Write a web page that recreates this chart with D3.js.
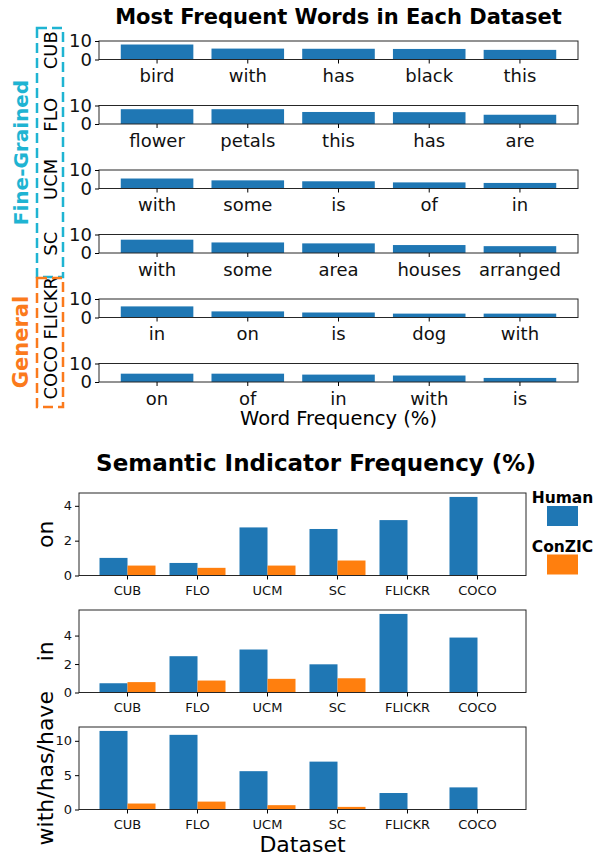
<!DOCTYPE html>
<html>
<head>
<meta charset="utf-8">
<script src="https://cdn.jsdelivr.net/npm/d3@7"></script>
<style>
  body { margin: 0; background: #fff; }
  text { font-family: "DejaVu Sans", sans-serif; }
</style>
</head>
<body>
<script>
// Top panel: most frequent words per dataset (% of words)
const topDatasets = ["CUB", "FLO", "UCM", "SC", "FLICKR", "COCO"];
const cubWords = ["bird", "with", "has", "black", "this"];
const cubFreq = [8.1, 5.9, 5.8, 5.7, 5.2];
const floWords = ["flower", "petals", "this", "has", "are"];
const floFreq = [8.0, 8.0, 6.5, 6.4, 5.0];
const ucmWords = ["with", "some", "is", "of", "in"];
const ucmFreq = [5.4, 4.4, 3.9, 3.3, 3.0];
const scWords = ["with", "some", "area", "houses", "arranged"];
const scFreq = [7.2, 5.7, 5.2, 4.3, 3.7];
const flickrWords = ["in", "on", "is", "dog", "with"];
const flickrFreq = [6.0, 3.3, 2.7, 2.1, 2.1];
const cocoWords = ["on", "of", "in", "with", "is"];
const cocoFreq = [4.5, 4.5, 4.0, 3.5, 2.2];
const topTicks = [0, 10];

// Bottom panel: semantic indicator frequency (%)
const datasets = ["CUB", "FLO", "UCM", "SC", "FLICKR", "COCO"];
const series = ["Human", "ConZIC"];
const humanOn = [1.01, 0.72, 2.76, 2.67, 3.18, 4.51];
const conzicOn = [0.57, 0.44, 0.57, 0.86, 0, 0];
const humanIn = [0.65, 2.55, 3.02, 1.98, 5.52, 3.86];
const conzicIn = [0.73, 0.84, 0.96, 1.0, 0, 0];
const humanWith = [11.44, 10.87, 5.58, 6.97, 2.4, 3.22];
const conzicWith = [0.87, 1.15, 0.63, 0.38, 0, 0];
const onTicks = [0, 2, 4];
const inTicks = [0, 2, 4];
const withTicks = [0, 5, 10];

const blue = "#1f77b4", orange = "#ff7f0e";
const cyanGroup = "#1fb4d2", orangeGroup = "#fb7a1c";

const svg = d3.select("body").append("svg")
    .attr("width", 601)
    .attr("height", 856);

// ---------- top section ----------
const topRows = [
  { name: "CUB", words: cubWords, values: cubFreq },
  { name: "FLO", words: floWords, values: floFreq },
  { name: "UCM", words: ucmWords, values: ucmFreq },
  { name: "SC", words: scWords, values: scFreq },
  { name: "FLICKR", words: flickrWords, values: flickrFreq },
  { name: "COCO", words: cocoWords, values: cocoFreq }
];
const topLeft = 99, topRight = 578, topH = 18.5, topY0 = 41, topStep = 64.5;

svg.append("text")
    .attr("x", (topLeft + topRight) / 2)
    .attr("y", 24)
    .attr("text-anchor", "middle")
    .style("font-size", "21px")
    .style("font-weight", "bold")
    .text("Most Frequent Words in Each Dataset");

topRows.forEach((row, i) => {
  const y0 = topY0 + i * topStep;
  const g = svg.append("g");
  const x = d3.scaleBand()
      .domain(row.words)
      .range([topLeft, topRight])
      .paddingInner(0.2)
      .paddingOuter(0.24);
  const y = d3.scaleLinear().domain([0, 10]).range([y0 + topH, y0]);

  g.selectAll("rect.bar")
    .data(row.words.map((w, k) => ({ word: w, value: row.values[k] })))
    .enter().append("rect")
      .attr("class", "bar")
      .attr("x", d => x(d.word))
      .attr("width", x.bandwidth())
      .attr("y", d => y(d.value))
      .attr("height", d => y(0) - y(d.value))
      .attr("fill", blue);

  g.append("rect")
      .attr("x", topLeft).attr("y", y0)
      .attr("width", topRight - topLeft).attr("height", topH)
      .attr("fill", "none").attr("stroke", "#262626");

  const ax = g.append("g")
      .attr("transform", `translate(0,${y0 + topH})`)
      .call(d3.axisBottom(x).tickSize(4).tickPadding(6));
  ax.select(".domain").remove();
  ax.selectAll("text").style("font-size", "18px").attr("fill", "#111");

  const ay = g.append("g")
      .attr("transform", `translate(${topLeft},0)`)
      .call(d3.axisLeft(y).tickValues(topTicks).tickFormat(d3.format("d")).tickSize(4).tickPadding(3));
  ay.select(".domain").remove();
  ay.selectAll("text").style("font-size", "18px").attr("fill", "#111");

  svg.append("text")
      .attr("transform", `translate(57,${y0 + topH / 2}) rotate(-90)`)
      .attr("text-anchor", "middle")
      .style("font-size", "18px")
      .text(row.name);
});

// group boxes
svg.append("rect")
    .attr("x", 37).attr("y", 28).attr("width", 26).attr("height", 249)
    .attr("fill", "none").attr("stroke", cyanGroup)
    .attr("stroke-width", 2.5).attr("stroke-dasharray", "10,5");
svg.append("rect")
    .attr("x", 37).attr("y", 278).attr("width", 26).attr("height", 129)
    .attr("fill", "none").attr("stroke", orangeGroup)
    .attr("stroke-width", 2.5).attr("stroke-dasharray", "10,5");
svg.append("text")
    .attr("transform", "translate(28,152.5) rotate(-90)")
    .attr("text-anchor", "middle")
    .style("font-size", "20px").style("font-weight", "bold")
    .attr("fill", cyanGroup)
    .text("Fine-Grained");
svg.append("text")
    .attr("transform", "translate(28,342) rotate(-90)")
    .attr("text-anchor", "middle")
    .style("font-size", "21px").style("font-weight", "bold")
    .attr("fill", orangeGroup)
    .text("General");

svg.append("text")
    .attr("x", (topLeft + topRight) / 2)
    .attr("y", 425)
    .attr("text-anchor", "middle")
    .style("font-size", "19.5px")
    .text("Word Frequency (%)");

// ---------- bottom section ----------
const botLeft = 79, botRight = 526, botH = 82.5;
const panels = [
  { label: "on", top: 493, human: humanOn, conzic: conzicOn, ticks: onTicks },
  { label: "in", top: 610, human: humanIn, conzic: conzicIn, ticks: inTicks },
  { label: "with/has/have", top: 727, human: humanWith, conzic: conzicWith, ticks: withTicks }
];

svg.append("text")
    .attr("x", 316)
    .attr("y", 471)
    .attr("text-anchor", "middle")
    .style("font-size", "23px")
    .style("font-weight", "bold")
    .text("Semantic Indicator Frequency (%)");

const bx = d3.scaleBand()
    .domain(datasets)
    .range([botLeft, botRight])
    .paddingInner(0.2)
    .paddingOuter(0.293);
const sub = d3.scaleBand().domain(series).range([0, bx.bandwidth()]);
const color = d3.scaleOrdinal().domain(series).range([blue, orange]);

panels.forEach(p => {
  const g = svg.append("g");
  const maxV = d3.max(p.human.concat(p.conzic));
  const y = d3.scaleLinear().domain([0, maxV * 1.05]).range([p.top + botH, p.top]);
  const rows = [];
  datasets.forEach((d, k) => {
    rows.push({ ds: d, s: "Human", v: p.human[k] });
    rows.push({ ds: d, s: "ConZIC", v: p.conzic[k] });
  });

  g.selectAll("rect.bar")
    .data(rows.filter(r => r.v > 0))
    .enter().append("rect")
      .attr("class", "bar")
      .attr("x", d => bx(d.ds) + sub(d.s))
      .attr("width", sub.bandwidth())
      .attr("y", d => y(d.v))
      .attr("height", d => y(0) - y(d.v))
      .attr("fill", d => color(d.s));

  g.append("rect")
      .attr("x", botLeft).attr("y", p.top)
      .attr("width", botRight - botLeft).attr("height", botH)
      .attr("fill", "none").attr("stroke", "#262626");

  const ax = g.append("g")
      .attr("transform", `translate(0,${p.top + botH})`)
      .call(d3.axisBottom(bx).tickSize(4).tickPadding(6));
  ax.select(".domain").remove();
  ax.selectAll("text").style("font-size", "13px").attr("fill", "#111");

  const ay = g.append("g")
      .attr("transform", `translate(${botLeft},0)`)
      .call(d3.axisLeft(y).tickValues(p.ticks).tickFormat(d3.format("d")).tickSize(4).tickPadding(3));
  ay.select(".domain").remove();
  ay.selectAll("text").style("font-size", "13px").attr("fill", "#111");

  svg.append("text")
      .attr("transform", `translate(53,${p.top + botH / 2}) rotate(-90)`)
      .attr("text-anchor", "middle")
      .style("font-size", "22px")
      .text(p.label);
});

svg.append("text")
    .attr("x", (botLeft + botRight) / 2)
    .attr("y", 852)
    .attr("text-anchor", "middle")
    .style("font-size", "22px")
    .text("Dataset");

// legend
const legend = svg.append("g");
series.forEach((s, k) => {
  const ly = 503 + k * 48.5;
  legend.append("text")
      .attr("x", 562.5).attr("y", ly)
      .attr("text-anchor", "middle")
      .style("font-size", "15.5px").style("font-weight", "bold")
      .text(s);
  legend.append("rect")
      .attr("x", 547).attr("y", ly + 3)
      .attr("width", 31).attr("height", 20)
      .attr("fill", color(s));
});
</script>
</body>
</html>
